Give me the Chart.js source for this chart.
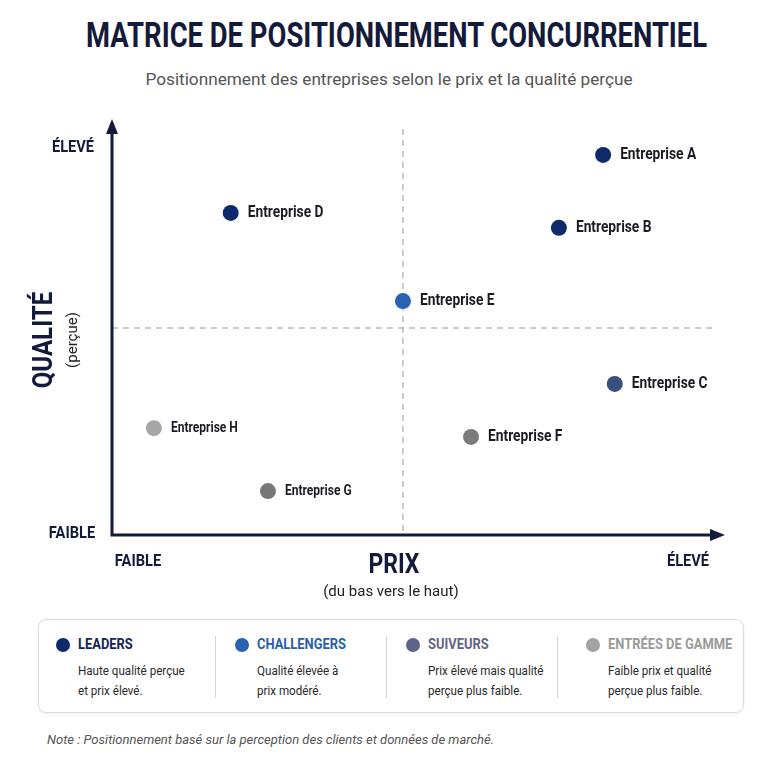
<!DOCTYPE html>
<html lang="fr">
<head>
<meta charset="utf-8">
<script src="https://cdn.jsdelivr.net/npm/chart.js@4.4.1/dist/chart.umd.min.js"></script>
<style>
	body { margin: 0; width: 768px; height: 768px; background: #fff; position: relative; overflow: hidden; font-family: Roboto, sans-serif; }
	h1 { position: absolute; top: 14px; left: 0; width: 792px; margin: 0; text-align: center; font-size: 35px; line-height: 44px; font-weight: bold; color: #141b3a; white-space: nowrap; }
	h1 span { display: inline-block; transform-origin: center; }
	.subtitle { position: absolute; top: 69px; left: 0; width: 778px; text-align: center; font-size: 17.2px; color: #555; }
	#chartWrap { position: absolute; left: 0; top: 100px; width: 768px; height: 510px; }
	.legend { position: absolute; left: 38px; top: 619px; width: 704px; height: 92px; border: 1px solid #dcdcdc; border-radius: 8px; box-shadow: 0 1px 3px rgba(0,0,0,0.06); }
	.item { position: absolute; top: 0; height: 92px; }
	.sep { position: absolute; top: 16px; width: 1px; height: 62px; background: #d6d6d6; }
	.dot { position: absolute; left: 17px; top: 18px; width: 14px; height: 14px; border-radius: 50%; }
	.head { position: absolute; left: 39px; top: 15px; font-weight: bold; font-size: 15px; white-space: nowrap; transform: scaleX(0.86); transform-origin: left; }
	.desc { position: absolute; left: 39px; top: 40px; font-size: 13.5px; line-height: 20px; color: #2a2a2a; white-space: nowrap; transform: scaleX(0.86); transform-origin: left; }
	.note { position: absolute; left: 47px; top: 732px; font-style: italic; font-size: 13px; color: #555; }
</style>
</head>
<body>
<h1><span id="title">MATRICE DE POSITIONNEMENT CONCURRENTIEL</span></h1>
<div class="subtitle">Positionnement des entreprises selon le prix et la qualité perçue</div>
<div id="chartWrap"><canvas id="matrixChart"></canvas></div>
<div class="legend" id="legend"></div>
<div class="note">Note : Positionnement basé sur la perception des clients et données de marché.</div>
<script>
"use strict";

const companyNames = ["Entreprise A", "Entreprise B", "Entreprise C", "Entreprise D", "Entreprise E", "Entreprise F", "Entreprise G", "Entreprise H"];
const priceValues = [8.44, 7.68, 8.64, 2.04, 5.0, 6.17, 2.68, 0.72];
const qualityValues = [9.18, 7.42, 3.65, 7.78, 5.65, 2.37, 1.06, 2.58];
const pointColors = ["#0f2a6b", "#0f2a6b", "#3b4e80", "#0f2a6b", "#2a62b3", "#7b7b7b", "#777777", "#a6a6a6"];

const groupNames = ["LEADERS", "CHALLENGERS", "SUIVEURS", "ENTRÉES DE GAMME"];
const groupColors = ["#0f2a6b", "#2a62b3", "#5d6488", "#a3a3a3"];
const groupTextColors = ["#14245a", "#2a5ea8", "#5d6488", "#9a9a9a"];
const groupDescriptions = [
	["Haute qualité perçue", "et prix élevé."],
	["Qualité élevée à", "prix modéré."],
	["Prix élevé mais qualité", "perçue plus faible."],
	["Faible prix et qualité", "perçue plus faible."]
];

const navy = "#141b3a";
const narrow = 0.86; // horizontal squeeze to imitate a condensed face

const fitTitle = () => {
	let title = document.querySelector("#title");
	let width = title.getBoundingClientRect().width;
	title.style.transform = `scaleX(${621 / width})`;
};

const buildLegend = () => {
	let legend = document.querySelector("#legend");
	let itemLefts = [0, 179, 350, 530];
	let sepLefts = [176, 347, 518];
	for (let groupIndex = 0; groupIndex < groupNames.length; groupIndex++) {
		let item = document.createElement("div");
		item.className = "item";
		item.style.left = itemLefts[groupIndex] + "px";
		item.innerHTML = `<div class="dot" style="background:${groupColors[groupIndex]}"></div>`
			+ `<div class="head" style="color:${groupTextColors[groupIndex]}">${groupNames[groupIndex]}</div>`
			+ `<div class="desc">${groupDescriptions[groupIndex].join("<br>")}</div>`;
		legend.appendChild(item);
		if (groupIndex > 0) {
			let sep = document.createElement("div");
			sep.className = "sep";
			sep.style.left = sepLefts[groupIndex - 1] + "px";
			legend.appendChild(sep);
		}
	}
};

const drawText = (ctx, text, x, y, rotate, squeeze) => {
	ctx.save();
	ctx.translate(x, y);
	if (rotate) {
		ctx.rotate(-Math.PI / 2);
	}
	ctx.scale(squeeze ?? narrow, 1);
	ctx.fillText(text, 0, 0);
	ctx.restore();
};

const matrixPlugin = {
	id: "matrixPlugin",
	beforeDatasetsDraw: chart => {
		let ctx = chart.ctx;
		let xScale = chart.scales.x;
		let yScale = chart.scales.y;
		let area = chart.chartArea;
		let midX = xScale.getPixelForValue(5);
		let midY = yScale.getPixelForValue(5);
		ctx.save();
		// quadrant lines
		ctx.strokeStyle = "#9a9a9a";
		ctx.lineWidth = 1;
		ctx.setLineDash([6, 5]);
		ctx.beginPath();
		ctx.moveTo(midX, area.top + 8);
		ctx.lineTo(midX, area.bottom);
		ctx.moveTo(area.left, midY);
		ctx.lineTo(area.right - 6, midY);
		ctx.stroke();
		ctx.setLineDash([]);
		// axes with arrows
		ctx.strokeStyle = navy;
		ctx.fillStyle = navy;
		ctx.lineWidth = 3;
		ctx.beginPath();
		ctx.moveTo(area.left, area.top + 8);
		ctx.lineTo(area.left, area.bottom);
		ctx.lineTo(area.right - 10, area.bottom);
		ctx.stroke();
		ctx.beginPath();
		ctx.moveTo(area.left, area.top - 2);
		ctx.lineTo(area.left - 6, area.top + 13);
		ctx.lineTo(area.left + 6, area.top + 13);
		ctx.closePath();
		ctx.fill();
		ctx.beginPath();
		ctx.moveTo(area.right + 2, area.bottom);
		ctx.lineTo(area.right - 13, area.bottom - 6);
		ctx.lineTo(area.right - 13, area.bottom + 6);
		ctx.closePath();
		ctx.fill();
		// axis texts
		ctx.textBaseline = "middle";
		ctx.textAlign = "center";
		ctx.font = "bold 17px Roboto, sans-serif";
		drawText(ctx, "ÉLEVÉ", 73, yScale.getPixelForValue(9.35));
		drawText(ctx, "FAIBLE", 72, area.bottom - 1);
		drawText(ctx, "FAIBLE", 138, area.bottom + 27);
		drawText(ctx, "ÉLEVÉ", 688, area.bottom + 27);
		ctx.font = "bold 28px Roboto, sans-serif";
		drawText(ctx, "PRIX", midX - 9, area.bottom + 31, false, 0.82);
		drawText(ctx, "QUALITÉ", 45, midY + 12, true);
		ctx.fillStyle = "#222";
		ctx.font = "15px Roboto, sans-serif";
		drawText(ctx, "(du bas vers le haut)", midX - 12, area.bottom + 57, false, 1);
		drawText(ctx, "(perçue)", 73, midY + 12, true, 1);
		ctx.restore();
	},
	afterDatasetsDraw: chart => {
		let ctx = chart.ctx;
		let meta = chart.getDatasetMeta(0);
		ctx.save();
		ctx.fillStyle = "#1b1b24";
		ctx.textBaseline = "middle";
		ctx.textAlign = "left";
		meta.data.forEach((point, index) => {
			ctx.font = `bold ${index >= 6 ? 14 : 16}px Roboto, sans-serif`;
			drawText(ctx, companyNames[index], point.x + 17, point.y);
		});
		ctx.restore();
	}
};

const buildChart = () => {
	let canvas = document.querySelector("canvas#matrixChart");
	new Chart(canvas, {
		type: "scatter",
		data: {
			datasets: [{
				data: priceValues.map((price, index) => ({ x: price, y: qualityValues[index] })),
				backgroundColor: pointColors,
				borderWidth: 0,
				pointRadius: 8,
				pointHoverRadius: 8
			}]
		},
		options: {
			responsive: true,
			maintainAspectRatio: false,
			animation: false,
			layout: {
				padding: { left: 112, right: 45, top: 21, bottom: 75 }
			},
			scales: {
				x: { type: "linear", min: 0, max: 10.5, display: false },
				y: { type: "linear", min: 0, max: 10, display: false }
			},
			plugins: {
				legend: { display: false },
				tooltip: { enabled: false }
			}
		},
		plugins: [matrixPlugin]
	});
};

fitTitle();
buildLegend();
buildChart();
</script>
</body>
</html>
